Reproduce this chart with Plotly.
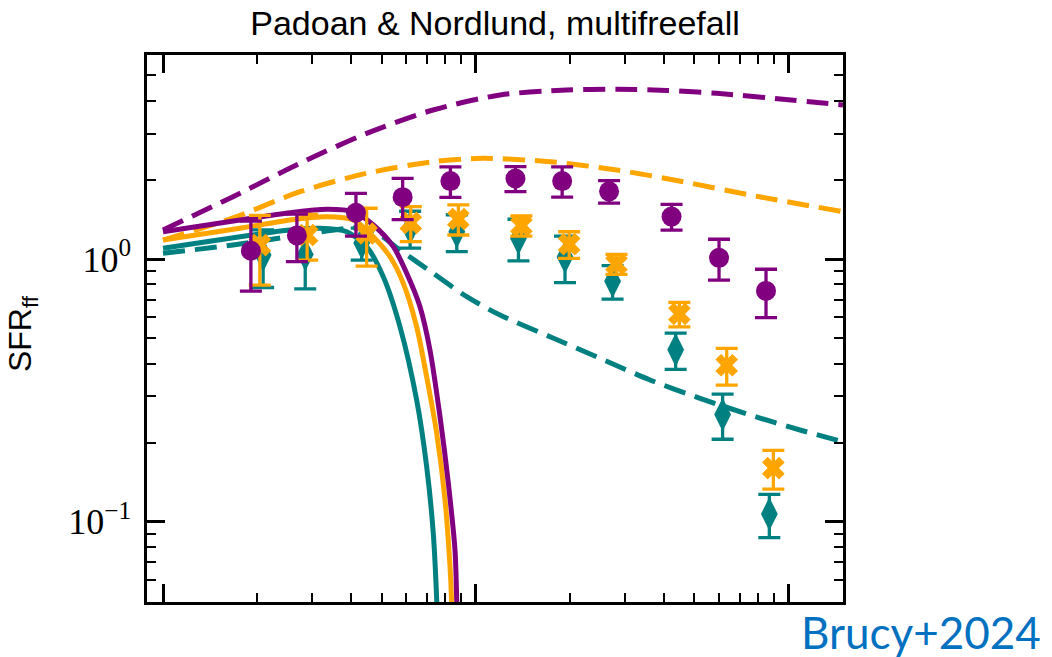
import plotly.graph_objects as go

# ---------------- data ----------------
PURPLE = "#800080"
ORANGE = "#FFA500"
TEAL = "#008080"

# simulation points (symmetric errors)
x_purple = [1.91, 2.68, 4.14, 5.84, 8.30, 13.4, 18.9, 26.7, 42.3, 60.0, 84.8]
y_purple = [1.075, 1.23, 1.50, 1.72, 1.98, 2.025, 1.98, 1.81, 1.45, 1.01, 0.756]
e_purple = [0.32, 0.253, 0.278, 0.307, 0.264, 0.221, 0.261, 0.179, 0.163, 0.179, 0.158]

x_orange = [2.04, 2.89, 4.48, 6.20, 8.80, 14.0, 19.9, 28.2, 44.8, 63.5, 89.5]
y_orange = [1.13, 1.234, 1.25, 1.373, 1.42, 1.34, 1.138, 0.958, 0.618, 0.394, 0.160]
e_orange = [0.335, 0.243, 0.31, 0.209, 0.186, 0.118, 0.132, 0.084, 0.066, 0.063, 0.027]

x_teal = [2.09, 2.85, 4.32, 6.17, 8.70, 13.7, 19.3, 27.4, 43.6, 61.6, 86.9]
y_teal = [1.035, 1.04, 1.15, 1.31, 1.27, 1.20, 1.018, 0.823, 0.451, 0.256, 0.107]
e_teal = [0.256, 0.27, 0.16, 0.21, 0.204, 0.217, 0.205, 0.12, 0.071, 0.05, 0.020]

# model curves: solid
xs_purple = [1.0, 1.763, 2.548, 3.339, 4.061, 4.705, 5.452, 6.016, 6.634, 7.141, 7.688, 8.175, 8.585, 8.695, 8.80]
ys_purple = [1.270, 1.408, 1.501, 1.546, 1.514, 1.347, 1.114, 0.882, 0.658, 0.450, 0.251, 0.140, 0.078, 0.0503, 0.03]
xs_orange = [1.0, 1.763, 2.548, 3.339, 4.061, 4.705, 5.321, 5.868, 6.474, 6.969, 7.504, 7.978, 8.276, 8.37, 8.45]
ys_orange = [1.181, 1.309, 1.408, 1.449, 1.408, 1.216, 1.020, 0.808, 0.552, 0.356, 0.217, 0.121, 0.0674, 0.0503, 0.03]
xs_teal = [1.0, 1.763, 2.548, 3.178, 3.868, 4.481, 5.064, 5.727, 6.474, 6.969, 7.317, 7.504, 7.6]
ys_teal = [1.098, 1.216, 1.289, 1.309, 1.270, 1.114, 0.856, 0.552, 0.2905, 0.162, 0.0903, 0.0503, 0.03]

# model curves: dashed
xd_purple = [1.0, 1.675, 2.743, 4.481, 7.302, 11.96, 19.54, 28.24, 40.8, 58.98, 96.1, 149.5]
yd_purple = [1.289, 1.727, 2.314, 3.009, 3.692, 4.211, 4.399, 4.426, 4.38, 4.273, 4.055, 3.857]
xd_orange = [1.0, 1.675, 2.743, 4.481, 7.302, 10.55, 17.29, 28.24, 46.12, 75.4, 149.5]
yd_orange = [1.181, 1.433, 1.804, 2.120, 2.346, 2.417, 2.346, 2.182, 1.969, 1.752, 1.514]
xd_teal = [1.0, 1.675, 2.743, 3.963, 4.592, 5.727, 7.317, 9.36, 11.96, 17.29, 24.98, 36.09, 52.16, 75.4, 108.9, 149.5]
yd_teal = [1.051, 1.131, 1.234, 1.309, 1.301, 1.082, 0.882, 0.719, 0.612, 0.506, 0.419, 0.3463, 0.295, 0.2548, 0.2234, 0.2016]

# axis ticks
x_major = [1, 10, 100]
x_minor = [2, 3, 4, 5, 6, 7, 8, 9, 20, 30, 40, 50, 60, 70, 80, 90]
y_major = [0.1, 1]
y_major_text = ["10<sup>\u22121</sup>", "10<sup>0</sup>"]
y_minor = [0.06, 0.07, 0.08, 0.09, 0.2, 0.3, 0.4, 0.5, 0.6, 0.7, 0.8, 0.9, 2, 3, 4, 5]

# ---------------- figure ----------------
fig = go.Figure()

LW = 5
DASH = "22px,10px"
for xx, yy, c in [(xd_teal, yd_teal, TEAL), (xd_orange, yd_orange, ORANGE), (xd_purple, yd_purple, PURPLE)]:
    fig.add_trace(go.Scatter(x=xx, y=yy, mode="lines",
                             line=dict(color=c, width=LW, dash=DASH, shape="spline", smoothing=0.8),
                             hoverinfo="skip"))
for xx, yy, c in [(xs_teal, ys_teal, TEAL), (xs_orange, ys_orange, ORANGE), (xs_purple, ys_purple, PURPLE)]:
    fig.add_trace(go.Scatter(x=xx, y=yy, mode="lines",
                             line=dict(color=c, width=LW, shape="spline", smoothing=0.8),
                             hoverinfo="skip"))

def pts(x, y, e, c, sym, size):
    return go.Scatter(x=x, y=y, mode="markers",
                      marker=dict(color=c, symbol=sym, size=size, line=dict(width=0)),
                      error_y=dict(type="data", array=e, visible=True, color=c,
                                   thickness=3.3, width=11))

fig.add_trace(pts(x_teal, y_teal, e_teal, TEAL, "diamond-tall", 24))
fig.add_trace(pts(x_orange, y_orange, e_orange, ORANGE, "x", 20))
fig.add_trace(pts(x_purple, y_purple, e_purple, PURPLE, "circle", 20))

axis_common = dict(
    type="log", showline=True, linecolor="black", linewidth=2.5, mirror="allticks",
    ticks="inside", ticklen=18, tickwidth=2.5, tickcolor="black",
    showgrid=False, zeroline=False, tickmode="array",
)

fig.update_xaxes(
    **axis_common, range=[-0.0512, 2.1746], tickvals=x_major, showticklabels=False,
    minor=dict(tickmode="array", tickvals=x_minor, ticks="inside", ticklen=9,
               tickwidth=2, tickcolor="black", showgrid=False),
)
fig.update_yaxes(
    **axis_common, range=[-1.3057, 0.7766], tickvals=y_major, ticktext=y_major_text,
    tickfont=dict(family="Liberation Serif", size=36, color="black"),
    ticklabelstandoff=6,
    minor=dict(tickmode="array", tickvals=y_minor, ticks="inside", ticklen=9,
               tickwidth=2, tickcolor="black", showgrid=False),
)

fig.update_layout(
    width=1052, height=657,
    margin=dict(l=147, r=209, t=55, b=55),
    plot_bgcolor="white", paper_bgcolor="white",
    showlegend=False,
    title=dict(text="Padoan & Nordlund, multifreefall",
               font=dict(family="Liberation Sans", size=34, color="black"),
               x=(495) / 1052, xanchor="center", xref="container",
               y=1 - 23 / 657, yanchor="middle", yref="container"),
    annotations=[
        dict(text="SFR<sub>ff</sub>", xref="paper", yref="paper",
             x=-0.178, y=0.49, textangle=-90, showarrow=False,
             xanchor="center", yanchor="middle",
             font=dict(family="Liberation Sans", size=32, color="black")),
        dict(text="Brucy+2024", xref="paper", yref="paper",
             x=1.287, y=-0.055, showarrow=False,
             xanchor="right", yanchor="middle",
             font=dict(family="Lato", size=44, color="#0070C0")),
    ],
)

fig.write_html("out.html")
